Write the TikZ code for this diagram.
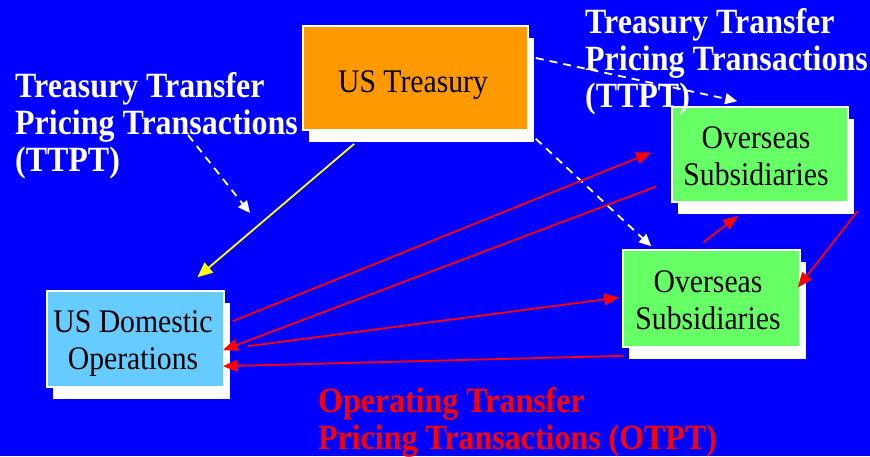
\documentclass[tikz,border=0pt]{standalone}
\usepackage{fontspec}
\setmainfont{Liberation Serif}[FakeStretch=0.9]
\newfontfamily\captionfont{Liberation Serif}[FakeStretch=0.9]
\usetikzlibrary{arrows.meta,shadows,calc}

\definecolor{bgblue}{HTML}{0000FF}
\definecolor{treorange}{HTML}{FF9900}
\definecolor{subgreen}{HTML}{66FF66}
\definecolor{domblue}{HTML}{66CCFF}
\definecolor{flowred}{HTML}{FF0000}
\definecolor{flowyellow}{HTML}{FFFF00}

\tikzset{
  box/.style={draw=white, line width=1.6pt, inner sep=0pt,
    drop shadow={shadow xshift=6pt, shadow yshift=-12pt, fill=white, opacity=1}},
  boxtext/.style={anchor=base, inner sep=0pt, font=\captionfont\fontsize{33}{37}\selectfont},
  tplabel/.style={anchor=base west, inner sep=0pt, text=white,
    font=\fontsize{35.5}{37}\selectfont\bfseries},
  oplabel/.style={tplabel, text=flowred},
  opflow/.style={draw=flowred, line width=1.8pt, -{Triangle[length=15pt,width=12pt]}},
  trflow/.style={draw=white, line width=1.8pt, dash pattern=on 8pt off 6pt,
    -{Triangle[length=12pt,width=11pt]}},
  yelflow/.style={draw=flowyellow, line width=1.8pt, -{Triangle[length=15pt,width=13pt]}}
}

\begin{document}
\begin{tikzpicture}[x=1pt, y=-1pt]
  % page background
  \fill[bgblue] (0,0) rectangle (870,456);
  \useasboundingbox (0,0) rectangle (870,456);

  % entity boxes
  \node[box, fill=treorange, minimum width=225pt, minimum height=104pt] (tre) at (415.5,78) {};
  \node[box, fill=subgreen, minimum width=176pt, minimum height=95pt] (ov1) at (760,154.5) {};
  \node[box, fill=subgreen, minimum width=177pt, minimum height=97pt] (ov2) at (711.5,298.5) {};
  \node[box, fill=domblue, minimum width=177pt, minimum height=96pt] (dom) at (135.5,339) {};

  % box captions
  \node[boxtext] (treA) at (413,92) {US Treasury};
  \node[boxtext] (ov1A) at (756,148) {Overseas};
  \node[boxtext] (ov1B) at (756,185) {Subsidiaries};
  \node[boxtext] (ov2A) at (708,292) {Overseas};
  \node[boxtext] (ov2B) at (708,329) {Subsidiaries};
  \node[boxtext] (domA) at (133,332) {US Domestic};
  \node[boxtext] (domB) at (133,369) {Operations};

  % transaction labels
  \node[tplabel] (ltA) at (15,97) {Treasury Transfer};
  \node[tplabel] (ltB) at (15,134) {Pricing Transactions};
  \node[tplabel] (ltC) at (15,171) {(TTPT)};
  \node[tplabel] (rtA) at (585,33) {Treasury Transfer};
  \node[tplabel] (rtB) at (585,70) {Pricing Transactions};
  \node[tplabel] (rtC) at (585,107) {(TTPT)};
  \node[oplabel] (opA) at (318,412) {Operating Transfer};
  \node[oplabel] (opB) at (318,449) {Pricing Transactions (OTPT)};

  % treasury flows
  \draw[yelflow] ($(tre.south west)+(52,13)$) -- ($(dom.north)+(62,-13)$);
  \draw[trflow] ($(tre.east)+(7,-20)$) -- ($(ov1.north west)+(66,-5)$);
  \draw[trflow] ($(tre.south east)+(7,8)$) -- ($(ov2.north west)+(29,-3)$);
  \coordinate (ttptFrom) at (188,135);
  \coordinate (ttptTo) at (250,213);
  \draw[trflow] (ttptFrom) -- (ttptTo);

  % operating flows
  \draw[opflow] ($(dom.north east)+(8,31)$) -- ($(ov1.west)+(-20,-2)$);
  \draw[opflow] ($(ov1.west)+(-15,32)$) -- ($(dom.north east)+(-2,60)$);
  \draw[opflow] ($(dom.north east)+(23,56)$) -- ($(ov2.west)+(-3,-1)$);
  \draw[opflow] ($(ov2.south west)+(2,8)$) -- ($(dom.north east)+(-2,76)$);
  \draw[opflow] ($(ov2.north)+(-8,-7)$) -- ($(ov1.south)+(-22,13)$);
  \draw[opflow] ($(ov1.south east)+(9,8)$) -- ($(ov2.east)+(-3,-11)$);
\end{tikzpicture}
\end{document}
